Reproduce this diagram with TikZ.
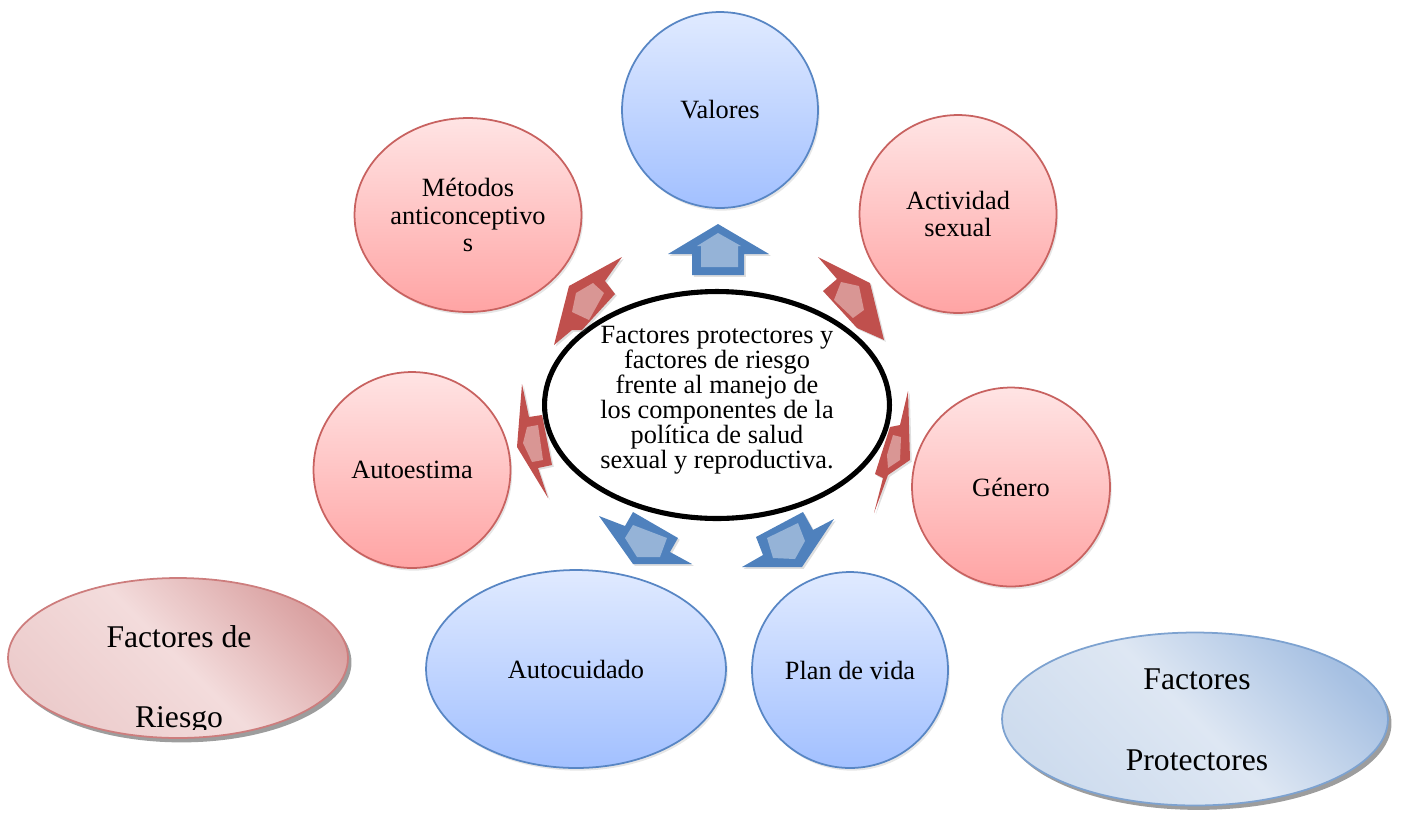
\documentclass[tikz,border=0pt]{standalone}
\usepackage{fontspec}
\setmainfont{Liberation Serif}
\usetikzlibrary{calc, positioning, shapes.geometric, shadows}
\definecolor{rtop}{RGB}{255,228,228}
\definecolor{rbot}{RGB}{255,164,164}
\definecolor{rline}{RGB}{200,98,96}
\definecolor{btop}{RGB}{224,234,255}
\definecolor{bbot}{RGB}{162,192,255}
\definecolor{bline}{RGB}{88,134,196}
\definecolor{arrb}{RGB}{79,129,189}
\definecolor{arrbl}{RGB}{149,179,215}
\definecolor{arrr}{RGB}{192,80,77}
\definecolor{arrrl}{RGB}{217,150,148}
\definecolor{legr}{RGB}{243,220,220}
\definecolor{legrl}{RGB}{236,204,204}
\definecolor{legrd}{RGB}{218,162,162}
\definecolor{legrline}{RGB}{205,125,125}
\definecolor{legb}{RGB}{222,231,243}
\definecolor{legbl}{RGB}{206,220,238}
\definecolor{legbd}{RGB}{166,192,226}
\definecolor{legbline}{RGB}{125,162,208}
\tikzstyle{circ}=[ellipse, inner sep=0pt, align=center, line width=1pt, font=\fontsize{15}{15.9}\selectfont, drop shadow={shadow xshift=1pt, shadow yshift=-1.5pt, opacity=.2}]
\tikzstyle{rcirc}=[circ, draw=rline, top color=rtop, bottom color=rbot]
\tikzstyle{bcirc}=[circ, draw=bline, top color=btop, bottom color=bbot]
\tikzstyle{arrshadow}=[drop shadow={shadow xshift=1pt, shadow yshift=-1pt, opacity=.25}]
\tikzstyle{legtxt}=[align=center, font=\fontsize{18}{46}\selectfont]
\tikzstyle{leg}=[ellipse, line width=1pt, minimum width=6.8cm, drop shadow={shadow xshift=2pt, shadow yshift=-2.5pt, opacity=.55, fill=black!70}]
\tikzset{>=stealth}

\begin{document}
\begin{tikzpicture}[x=0.02cm, y=-0.02cm]
\useasboundingbox (0,0) rectangle (1403,819);
% outer circles
\node[bcirc, minimum width=3.92cm, minimum height=3.92cm] (valores) at (720,110) {Valores};
\node[rcirc, minimum width=4.54cm, minimum height=3.88cm] (metodos) at (468,215) {Métodos\\anticonceptivo\\s};
\node[rcirc, minimum width=3.94cm, minimum height=3.96cm] (actividad) at (958,214) {Actividad\\sexual};
\node[rcirc, minimum width=3.94cm, minimum height=3.92cm] (autoestima) at (412,470) {Autoestima};
\node[rcirc, minimum width=3.96cm, minimum height=3.98cm] (genero) at (1011,487) {Género};
\node[bcirc, minimum width=6cm, minimum height=3.96cm] (autocuidado) at (576,669) {Autocuidado};
\node[bcirc, minimum width=3.92cm, minimum height=3.92cm] (plan) at (850,670) {Plan de vida};
% center
\node[ellipse, draw, line width=2.9pt, fill=white, minimum width=6.9cm, minimum height=4.54cm] (centro) at (717,405) {};
\node[align=center, font=\fontsize{15}{14.2}\selectfont] (centrotxt) at (717,400) {Factores protectores y\\factores de riesgo\\frente al manejo de\\los componentes de la\\política de salud\\sexual y reproductiva.};
% block arrows
\fill[arrb, arrshadow] (718,224) -- (668,254) -- (692,254) -- (692,275) -- (744,275) -- (744,254) -- (769,254) -- cycle;
\fill[arrbl] (718,233) -- (697,246) -- (701,246) -- (701,267) -- (738,267) -- (738,246) -- (741,246) -- cycle;
\fill[arrr, arrshadow] (622,257) -- (605,281) -- (615,294) -- (582,330) -- (572,330) -- (554,345) -- (569,286) -- cycle;
\fill[arrrl] (576,293) -- (593,283) -- (604,293) -- (589,320) -- (572,312) -- cycle;
\fill[arrr, arrshadow] (818,257) -- (870,283) -- (884,340) -- (857,328) -- (823,291) -- (837,279) -- cycle;
\fill[arrrl] (841,282) -- (859,286) -- (864,310) -- (853,318) -- (834,300) -- cycle;
\fill[arrr, arrshadow] (522,384) -- (529,417) -- (542,415) -- (552,465) -- (538,468) -- (548,498) -- (517,447) -- cycle;
\fill[arrrl] (527,427) -- (538,425) -- (543,460) -- (532,462) -- (523,443) -- cycle;
\fill[arrr, arrshadow] (908,391) -- (910,460) -- (888,475) -- (874,513) -- (883,478) -- (875,474) -- (890,427) -- (900,425) -- cycle;
\fill[arrrl] (893,435) -- (901,437) -- (900,460) -- (888,468) -- (887,455) -- cycle;
\fill[arrb, arrshadow] (599,516) -- (625,526) -- (633,512) -- (678,538) -- (670,552) -- (692,564) -- (633,564) -- cycle;
\fill[arrbl] (633,525) -- (667,538) -- (660,557) -- (637,557) -- (625,538) -- cycle;
\fill[arrb, arrshadow] (834,519) -- (813,530) -- (803,512) -- (756,537) -- (763,555) -- (742,567) -- (802,567) -- cycle;
\fill[arrbl] (767,538) -- (798,523) -- (805,541) -- (795,559) -- (773,558) -- cycle;
% legend
\node[leg, draw=legrline, left color=legrl, right color=legrd, middle color=legr, shading angle=135, minimum height=3.2cm] (riesgo) at (178,658) {};
\begin{scope}
\clip (0,0) rectangle (1403,729);
\node[legtxt] (riesgotxt) at (179,680) {Factores de\\Riesgo};
\end{scope}
\node[leg, draw=legbline, left color=legbl, right color=legbd, middle color=legb, shading angle=135, minimum width=7.72cm, minimum height=3.46cm] (protect) at (1195,719) {};
\node[legtxt] (protecttxt) at (1197,720) {Factores\\Protectores};
\end{tikzpicture}
\end{document}
